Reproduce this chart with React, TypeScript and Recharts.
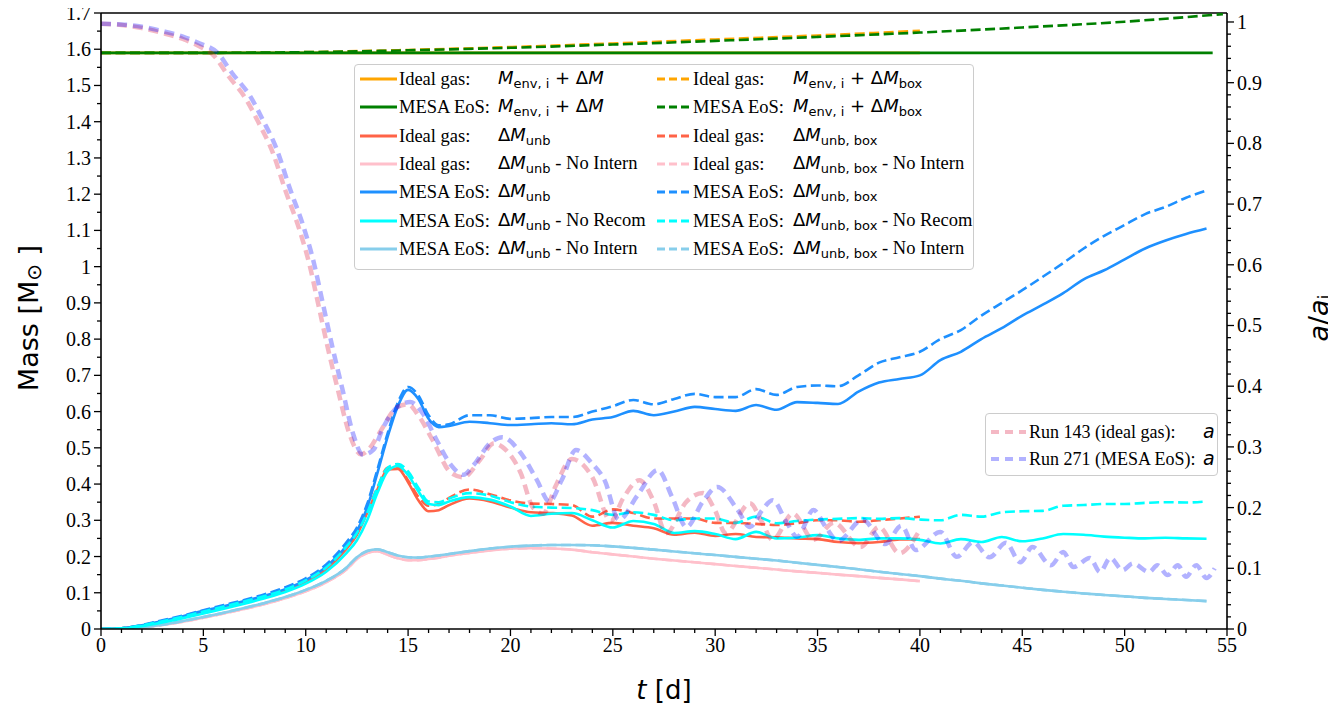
import React from "react";
import { LineChart, Line, XAxis, YAxis, ReferenceLine, Label } from "recharts";

// ── Time grids [d] ─────────────────────────────────────────────────────
const T_MAIN = [
  0, 1, 2, 3, 4, 5, 6, 7, 8, 9, 10, 11, 12,
  12.5, 13, 13.5, 14, 14.5, 15, 15.5, 16, 16.5,
  17, 18, 19, 20, 21, 22, 23, 24, 25, 26,
  27, 28, 29, 30, 31, 32, 33, 34, 35, 36,
  37, 38, 39, 40, 41, 42, 43, 44, 45, 46,
  47, 48, 49, 50, 51, 52, 53, 54,
];
const T_IDEAL = T_MAIN.filter((t) => t <= 40);

// ── Envelope mass + ejected mass [Msun] ────────────────────────────────
const T_ENV_IDEAL = [0, 40];
const IDEAL_ENV = [1.59, 1.59];
const T_ENV_MESA = [0, 54.3];
const MESA_ENV = [1.59, 1.59];
const T_BOX_IDEAL = [0, 5, 10, 15, 20, 25, 30, 35, 40];
const IDEAL_ENV_BOX = [1.59, 1.59, 1.592, 1.598, 1.606, 1.616, 1.627, 1.638, 1.651];
const T_BOX_MESA = [0, 5, 10, 15, 20, 25, 30, 35, 40, 45, 50, 54.8];
const MESA_ENV_BOX = [1.59, 1.59, 1.592, 1.597, 1.604, 1.613, 1.623, 1.634, 1.646, 1.66, 1.676, 1.697];

// ── Unbound mass, ideal gas (run ends at 40 d) ─────────────────────────
const IDEAL_UNB = [
  0, 0.002, 0.009, 0.02, 0.032, 0.046, 0.059, 0.073, 0.088, 0.105, 0.13, 0.165, 0.222,
  0.26, 0.32, 0.385, 0.44, 0.442, 0.405, 0.355, 0.325, 0.328,
  0.342, 0.36, 0.352, 0.335, 0.322, 0.32, 0.313, 0.285, 0.293, 0.285,
  0.278, 0.26, 0.266, 0.257, 0.262, 0.254, 0.253, 0.25, 0.248, 0.24,
  0.237, 0.24, 0.247, 0.248,
];
const IDEAL_UNB_BOX = [
  0, 0.002, 0.01, 0.022, 0.034, 0.048, 0.062, 0.076, 0.091, 0.108, 0.133, 0.169, 0.226,
  0.264, 0.325, 0.39, 0.445, 0.447, 0.41, 0.365, 0.34, 0.345,
  0.362, 0.385, 0.372, 0.355, 0.346, 0.345, 0.342, 0.31, 0.33, 0.32,
  0.305, 0.305, 0.305, 0.293, 0.293, 0.29, 0.287, 0.292, 0.3, 0.3,
  0.296, 0.3, 0.305, 0.31,
];
const IDEAL_UNB_NOINT = [
  0, 0, 0.004, 0.011, 0.02, 0.031, 0.043, 0.055, 0.069, 0.085, 0.104, 0.129, 0.165,
  0.193, 0.21, 0.215, 0.205, 0.195, 0.19, 0.19, 0.193, 0.197,
  0.202, 0.21, 0.217, 0.222, 0.223, 0.222, 0.219, 0.212, 0.206, 0.2,
  0.194, 0.189, 0.184, 0.179, 0.174, 0.169, 0.164, 0.159, 0.155, 0.15,
  0.146, 0.141, 0.137, 0.132,
];

// ── Unbound mass, MESA EoS ─────────────────────────────────────────────
const MESA_UNB = [
  0, 0.002, 0.01, 0.022, 0.035, 0.05, 0.063, 0.077, 0.092, 0.11, 0.135, 0.172, 0.23,
  0.27, 0.335, 0.43, 0.53, 0.615, 0.66, 0.635, 0.58, 0.557,
  0.56, 0.572, 0.568, 0.563, 0.565, 0.568, 0.565, 0.578, 0.585, 0.602,
  0.59, 0.6, 0.613, 0.607, 0.602, 0.618, 0.605, 0.626, 0.624, 0.621,
  0.655, 0.68, 0.69, 0.7, 0.742, 0.765, 0.8, 0.83, 0.865, 0.895,
  0.927, 0.965, 0.99, 1.02, 1.05, 1.072, 1.09, 1.105,
];
const MESA_UNB_BOX = [
  0, 0.002, 0.011, 0.024, 0.037, 0.052, 0.066, 0.08, 0.096, 0.115, 0.14, 0.178, 0.24,
  0.28, 0.345, 0.44, 0.54, 0.625, 0.668, 0.645, 0.59, 0.562,
  0.565, 0.59, 0.59, 0.58, 0.582, 0.585, 0.585, 0.6, 0.615, 0.632,
  0.62, 0.635, 0.649, 0.64, 0.64, 0.662, 0.646, 0.668, 0.672, 0.67,
  0.7, 0.735, 0.75, 0.765, 0.8, 0.825, 0.865, 0.9, 0.935, 0.972,
  1.01, 1.05, 1.085, 1.115, 1.145, 1.165, 1.19, 1.21,
];
const MESA_UNB_NOREC = [
  0, 0.001, 0.008, 0.018, 0.03, 0.043, 0.056, 0.07, 0.085, 0.102, 0.125, 0.158, 0.21,
  0.245, 0.3, 0.375, 0.435, 0.45, 0.425, 0.38, 0.345, 0.342,
  0.352, 0.364, 0.357, 0.338, 0.312, 0.318, 0.32, 0.3, 0.28, 0.298,
  0.29, 0.265, 0.27, 0.262, 0.248, 0.268, 0.25, 0.252, 0.259, 0.25,
  0.246, 0.25, 0.25, 0.246, 0.236, 0.248, 0.24, 0.254, 0.242, 0.25,
  0.262, 0.26, 0.255, 0.252, 0.25, 0.252, 0.25, 0.249,
];
const MESA_UNB_BOX_NOREC = [
  0, 0.002, 0.01, 0.021, 0.034, 0.048, 0.062, 0.076, 0.091, 0.109, 0.134, 0.17, 0.228,
  0.265, 0.32, 0.39, 0.445, 0.455, 0.435, 0.39, 0.352, 0.35,
  0.36, 0.375, 0.368, 0.35, 0.338, 0.335, 0.334, 0.328, 0.315, 0.322,
  0.315, 0.3, 0.305, 0.305, 0.293, 0.31, 0.292, 0.298, 0.302, 0.304,
  0.306, 0.304, 0.306, 0.302, 0.3, 0.315, 0.31, 0.322, 0.325, 0.326,
  0.34, 0.342, 0.345, 0.345, 0.348, 0.35, 0.349, 0.352,
];
const MESA_UNB_NOINT = [
  0, 0, 0.005, 0.012, 0.022, 0.033, 0.045, 0.058, 0.072, 0.088, 0.108, 0.133, 0.17,
  0.198, 0.215, 0.22, 0.212, 0.203, 0.198, 0.197, 0.2, 0.203,
  0.207, 0.215, 0.222, 0.227, 0.23, 0.232, 0.232, 0.231, 0.228, 0.224,
  0.219, 0.214, 0.209, 0.204, 0.199, 0.194, 0.189, 0.183, 0.177, 0.171,
  0.165, 0.158, 0.152, 0.146, 0.139, 0.133, 0.126, 0.12, 0.114, 0.108,
  0.103, 0.098, 0.094, 0.09, 0.086, 0.083, 0.08, 0.077,
];

// ── Orbital separation a/a_i (right axis) ──────────────────────────────
const T_RUN143 = [
  0, 1, 2, 3, 4, 4.8, 5.5, 6.2, 7.1, 7.7, 8.4, 9.0, 9.7, 10.2, 10.6, 11.1, 11.6, 12.1,
  12.7, 13.1, 13.6, 14.5, 15.0, 15.5, 16.2, 17.1, 17.7, 18.5, 19.2, 19.6, 20.5, 21.1,
  21.6, 22.2, 23.0, 23.5, 24.0, 24.9, 25.5, 26.3, 27.0, 27.6, 28.6, 29.4, 30.0, 30.5,
  31.7, 32.3, 32.8, 33.8, 34.8, 35.8, 37.1, 38.0, 39.0, 39.9,
];
const RUN143 = [
  0.997, 0.995, 0.99, 0.982, 0.972, 0.96, 0.945, 0.912, 0.872, 0.834, 0.784, 0.723, 0.657, 0.598, 0.537, 0.46, 0.39, 0.325,
  0.288, 0.297, 0.323, 0.366, 0.37, 0.352, 0.311, 0.257, 0.25, 0.278, 0.306, 0.3, 0.257, 0.2,
  0.19, 0.235, 0.28, 0.272, 0.25, 0.178, 0.215, 0.245, 0.21, 0.158, 0.21, 0.224, 0.195, 0.158,
  0.207, 0.175, 0.147, 0.19, 0.147, 0.175, 0.135, 0.168, 0.125, 0.158,
];
const T_RUN271 = [
  0, 1, 2, 3, 4, 4.8, 5.7, 6.4, 7.3, 7.9, 8.6, 9.2, 9.9, 10.4, 10.8, 11.3, 11.8, 12.3,
  12.8, 13.3, 13.8, 14.5, 15.1, 15.7, 16.4, 17.1, 17.7, 18.2, 19, 19.6, 20.5, 21.3,
  21.9, 22.5, 23.2, 24.0, 24.6, 25.3, 26.2, 27.2, 27.9, 28.6, 29.4, 30.1, 31.1, 31.7,
  32.3, 32.8, 33.5, 34, 34.8, 35.4, 36, 37.2, 38.3, 39.1, 39.8, 41, 41.8, 42.6,
  43.4, 44.2, 44.9, 45.5, 46.4, 47, 47.5, 48.3, 48.8, 49.3, 49.9, 50.4, 51.2, 51.6,
  52.1, 52.6, 53, 53.5, 54, 54.4,
];
const RUN271 = [
  0.997, 0.996, 0.992, 0.985, 0.976, 0.965, 0.949, 0.916, 0.877, 0.839, 0.789, 0.728, 0.662, 0.603, 0.542, 0.465, 0.394, 0.323,
  0.287, 0.295, 0.333, 0.366, 0.374, 0.356, 0.311, 0.27, 0.254, 0.27, 0.306, 0.316, 0.29, 0.245,
  0.21, 0.245, 0.295, 0.272, 0.245, 0.18, 0.22, 0.262, 0.217, 0.168, 0.21, 0.234, 0.196, 0.168,
  0.196, 0.212, 0.175, 0.152, 0.196, 0.168, 0.145, 0.18, 0.14, 0.17, 0.13, 0.16, 0.119, 0.143,
  0.118, 0.142, 0.11, 0.135, 0.105, 0.127, 0.102, 0.117, 0.094, 0.117, 0.097, 0.108, 0.094, 0.105,
  0.089, 0.105, 0.086, 0.105, 0.084, 0.1,
];

// ── Axis ticks ─────────────────────────────────────────────────────────
const T_LABELS = [0, 5, 10, 15, 20, 25, 30, 35, 40, 45, 50, 55];
const MASS_LABELS = [0, 0.1, 0.2, 0.3, 0.4, 0.5, 0.6, 0.7, 0.8, 0.9, 1, 1.1, 1.2, 1.3, 1.4, 1.5, 1.6, 1.7];
const SEP_LABELS = [0, 0.1, 0.2, 0.3, 0.4, 0.5, 0.6, 0.7, 0.8, 0.9, 1];

const withMinor = (major: number[], step: number, n: number) =>
  major.flatMap((v, i) =>
    i < major.length - 1 ? Array.from({ length: n }, (_, k) => +(v + k * step).toFixed(3)) : [v]
  );
const T_TICKS = withMinor(T_LABELS, 1, 5);
const MASS_TICKS = withMinor(MASS_LABELS, 0.05, 2);
const SEP_TICKS = withMinor(SEP_LABELS, 0.02, 5);

// ── Styles ─────────────────────────────────────────────────────────────
const W = 1336;
const H = 715;
const SERIF = "'Liberation Serif', 'Times New Roman', Times, serif";
const SANS = "'DejaVu Sans', 'Noto Sans', sans-serif";

const ORANGE = "#FFA500";
const GREEN = "#008000";
const TOMATO = "#FF6347";
const PINK = "#FFC0CB";
const BLUE = "#1E90FF";
const CYAN = "#00FFFF";
const SKY = "#87CEEB";
const CRIMSON = "#DC143C";
const PURE_BLUE = "#0000FF";

const DASH = "10 4.5";
const SEP_DASH = "10 6";

const pts = (t: number[], v: number[]) => t.map((x, i) => ({ t: x, v: v[i] }));

type Series = { id: string; t: number[]; v: number[]; color: string; dashed?: boolean; axis?: string; width?: number; opacity?: number };

const SERIES: Series[] = [
  { id: "ideal-env", t: T_ENV_IDEAL, v: IDEAL_ENV, color: ORANGE },
  { id: "ideal-env-box", t: T_BOX_IDEAL, v: IDEAL_ENV_BOX, color: ORANGE, dashed: true },
  { id: "mesa-env-box", t: T_BOX_MESA, v: MESA_ENV_BOX, color: GREEN, dashed: true },
  { id: "mesa-env", t: T_ENV_MESA, v: MESA_ENV, color: GREEN },
  { id: "ideal-noint-box", t: T_IDEAL, v: IDEAL_UNB_NOINT, color: PINK, dashed: true },
  { id: "ideal-noint", t: T_IDEAL, v: IDEAL_UNB_NOINT, color: PINK },
  { id: "mesa-noint-box", t: T_MAIN, v: MESA_UNB_NOINT, color: SKY, dashed: true },
  { id: "mesa-noint", t: T_MAIN, v: MESA_UNB_NOINT, color: SKY },
  { id: "ideal-unb", t: T_IDEAL, v: IDEAL_UNB, color: TOMATO },
  { id: "ideal-unb-box", t: T_IDEAL, v: IDEAL_UNB_BOX, color: TOMATO, dashed: true },
  { id: "mesa-unb", t: T_MAIN, v: MESA_UNB, color: BLUE },
  { id: "mesa-unb-box", t: T_MAIN, v: MESA_UNB_BOX, color: BLUE, dashed: true },
  { id: "mesa-norec", t: T_MAIN, v: MESA_UNB_NOREC, color: CYAN },
  { id: "mesa-norec-box", t: T_MAIN, v: MESA_UNB_BOX_NOREC, color: CYAN, dashed: true },
  { id: "run143", t: T_RUN143, v: RUN143, color: CRIMSON, dashed: true, axis: "sep", width: 4.5, opacity: 0.3 },
  { id: "run271", t: T_RUN271, v: RUN271, color: PURE_BLUE, dashed: true, axis: "sep", width: 4.5, opacity: 0.3 },
];

// ── Ticks ──────────────────────────────────────────────────────────────
const fmt = (v: number) => String(+v.toFixed(2));
const isMajor = (v: number, labels: number[]) => labels.some((l) => Math.abs(l - v) < 1e-6);

const TickText = (p: any) => (
  <text {...p} fontFamily={SERIF} fontSize={20} fill="#000" style={{ fontFamily: SERIF }} />
);

const TimeTick = ({ x, y, payload }: any) => {
  const major = isMajor(payload.value, T_LABELS);
  return (
    <g>
      <line x1={x} y1={y} x2={x} y2={y + (major ? 7 : 4)} stroke="#000" strokeWidth={1.3} />
      {major && <TickText x={x} y={y + 9} dy="0.72em" textAnchor="middle">{fmt(payload.value)}</TickText>}
    </g>
  );
};

const MassTick = ({ x, y, payload }: any) => {
  const major = isMajor(payload.value, MASS_LABELS);
  return (
    <g>
      <line x1={x} y1={y} x2={x - (major ? 7 : 4)} y2={y} stroke="#000" strokeWidth={1.3} />
      {major && <TickText x={x - 10} y={y} dy="0.35em" textAnchor="end">{fmt(payload.value)}</TickText>}
    </g>
  );
};

const SepTick = ({ x, y, payload }: any) => {
  const major = isMajor(payload.value, SEP_LABELS);
  return (
    <g>
      <line x1={x} y1={y} x2={x + (major ? 7 : 4)} y2={y} stroke="#000" strokeWidth={1.3} />
      {major && <TickText x={x + 10} y={y} dy="0.35em" textAnchor="start">{fmt(payload.value)}</TickText>}
    </g>
  );
};

// ── Legend pieces ──────────────────────────────────────────────────────
const MATH: React.CSSProperties = { fontFamily: SANS, fontSize: 18, whiteSpace: "nowrap" };
const SUB: React.CSSProperties = { fontSize: 13, verticalAlign: "-4px" };

const Env = ({ box }: { box?: boolean }) => (
  <span style={MATH}>
    <i>M</i><span style={SUB}>env, i</span> + Δ<i>M</i>{box && <span style={SUB}>box</span>}
  </span>
);
const Unb = ({ box, note }: { box?: boolean; note?: string }) => (
  <span style={MATH}>
    Δ<i>M</i><span style={SUB}>{box ? "unb, box" : "unb"}</span>
    {note && <span style={{ fontFamily: SERIF, fontSize: 18.5 }}> - {note}</span>}
  </span>
);

const LEGEND_MAIN = [
  [
    { label: "Ideal gas:", color: ORANGE, math: <Env /> },
    { label: "MESA EoS:", color: GREEN, math: <Env /> },
    { label: "Ideal gas:", color: TOMATO, math: <Unb /> },
    { label: "Ideal gas:", color: PINK, math: <Unb note="No Intern" /> },
    { label: "MESA EoS:", color: BLUE, math: <Unb /> },
    { label: "MESA EoS:", color: CYAN, math: <Unb note="No Recom" /> },
    { label: "MESA EoS:", color: SKY, math: <Unb note="No Intern" /> },
  ],
  [
    { label: "Ideal gas:", color: ORANGE, math: <Env box /> },
    { label: "MESA EoS:", color: GREEN, math: <Env box /> },
    { label: "Ideal gas:", color: TOMATO, math: <Unb box /> },
    { label: "Ideal gas:", color: PINK, math: <Unb box note="No Intern" /> },
    { label: "MESA EoS:", color: BLUE, math: <Unb box /> },
    { label: "MESA EoS:", color: CYAN, math: <Unb box note="No Recom" /> },
    { label: "MESA EoS:", color: SKY, math: <Unb box note="No Intern" /> },
  ],
];

const Sample = ({ color, dashed, len, width = 3, opacity = 1, dash = "8 4" }: any) => (
  <svg width={len} height={10} style={{ position: "absolute", left: 0, top: -5 }}>
    <line x1={0} y1={5} x2={len} y2={5} stroke={color} strokeWidth={width} strokeOpacity={opacity}
      strokeDasharray={dashed ? dash : undefined} />
  </svg>
);

const boxStyle: React.CSSProperties = {
  position: "absolute", background: "rgba(255,255,255,0.85)", border: "1.3px solid #cccccc",
  borderRadius: 4, boxSizing: "border-box",
};
const LABEL: React.CSSProperties = {
  position: "absolute", top: -11, fontFamily: SERIF, fontSize: 18.5, lineHeight: "22px", whiteSpace: "nowrap",
};

function MainLegend() {
  const rowY = (i: number) => 14 + i * 28.3;
  const cols = [
    { sample: 5, len: 37, label: 44, math: 143, dashed: false },
    { sample: 302, len: 35, label: 338, math: 438, dashed: true },
  ];
  return (
    <div style={{ ...boxStyle, left: 354, top: 64, width: 620, height: 206 }}>
      {LEGEND_MAIN.map((col, c) =>
        col.map((e, i) => (
          <div key={`${c}-${i}`} style={{ position: "absolute", left: 0, top: rowY(i), width: "100%" }}>
            <div style={{ position: "absolute", left: cols[c].sample }}>
              <Sample color={e.color} dashed={cols[c].dashed} len={cols[c].len} />
            </div>
            <span style={{ ...LABEL, left: cols[c].label }}>{e.label}</span>
            <span style={{ position: "absolute", left: cols[c].math, top: -12, lineHeight: "22px" }}>{e.math}</span>
          </div>
        ))
      )}
    </div>
  );
}

const LEGEND_SEP = [
  { label: "Run 143 (ideal gas):", color: CRIMSON },
  { label: "Run 271 (MESA EoS):", color: PURE_BLUE },
];

function SepLegend() {
  return (
    <div style={{ ...boxStyle, left: 985, top: 413, width: 233, height: 63 }}>
      {LEGEND_SEP.map((e, i) => (
        <div key={i} style={{ position: "absolute", left: 0, top: 18 + i * 27, width: "100%" }}>
          <div style={{ position: "absolute", left: 5 }}>
            <Sample color={e.color} dashed len={35} width={4} opacity={0.3} dash="8 6" />
          </div>
          <span style={{ ...LABEL, left: 43, fontSize: 18 }}>{e.label}</span>
          <span style={{ position: "absolute", left: 217, top: -12, lineHeight: "22px", ...MATH, fontSize: 19 }}>
            <i>a</i>
          </span>
        </div>
      ))}
    </div>
  );
}

// ── Chart ──────────────────────────────────────────────────────────────
export default function App() {
  return (
    <div style={{ position: "relative", marginTop: -8, marginLeft: -8, width: W, height: H - 8 }}>
      <LineChart width={W} height={H} margin={{ top: 13, right: 0, bottom: 0, left: 0 }}>
        <XAxis xAxisId="t" dataKey="t" type="number" domain={[0, 55]} ticks={T_TICKS} interval={0}
          allowDataOverflow height={86} tickSize={0} tickMargin={0} tickLine={false} tick={<TimeTick />}
          axisLine={{ stroke: "#000", strokeWidth: 1.6 }}>
          <Label content={() => (
            <text x={664} y={690} textAnchor="middle" dominantBaseline="central" fontFamily={SANS} fontSize={26} fill="#000">
              <tspan fontStyle="italic">t</tspan> [d]
            </text>
          )} />
        </XAxis>
        <YAxis yAxisId="mass" orientation="left" type="number" domain={[0, 1.7]} ticks={MASS_TICKS} interval={0}
          allowDataOverflow width={101} tickSize={0} tickMargin={0} tickLine={false} tick={<MassTick />}
          axisLine={{ stroke: "#000", strokeWidth: 1.6 }}>
          <Label content={() => (
            <text x={28} y={318} transform="rotate(-90 28 318)" textAnchor="middle" dominantBaseline="central"
              fontFamily={SANS} fontSize={27} fill="#000">
              Mass [M<tspan fontSize={20} dy={6}>⊙</tspan><tspan dy={-6}>  ]</tspan>
            </text>
          )} />
        </YAxis>
        <YAxis yAxisId="sep" orientation="right" type="number" domain={[0, 1.0148]} ticks={SEP_TICKS} interval={0}
          allowDataOverflow width={109} tickSize={0} tickMargin={0} tickLine={false} tick={<SepTick />}
          axisLine={{ stroke: "#000", strokeWidth: 1.6 }}>
          <Label content={() => (
            <text x={1318} y={318} transform="rotate(-90 1318 318)" textAnchor="middle" dominantBaseline="central"
              fontFamily={SANS} fontSize={27} fill="#000">
              <tspan fontStyle="italic">a</tspan>/<tspan fontStyle="italic">a</tspan>
              <tspan fontSize={18} dy={6}>i</tspan>
            </text>
          )} />
        </YAxis>
        <ReferenceLine xAxisId="t" yAxisId="mass" y={1.7} stroke="#000" strokeWidth={1.6} />
        {SERIES.map((s) => (
          <Line key={s.id} xAxisId="t" yAxisId={s.axis ?? "mass"} data={pts(s.t, s.v)} dataKey="v"
            type="monotone" stroke={s.color} strokeWidth={s.width ?? 2.6} strokeOpacity={s.opacity ?? 1}
            strokeDasharray={s.dashed ? (s.axis ? SEP_DASH : DASH) : undefined}
            dot={false} activeDot={false} isAnimationActive={false} />
        ))}
      </LineChart>
      <MainLegend />
      <SepLegend />
    </div>
  );
}
